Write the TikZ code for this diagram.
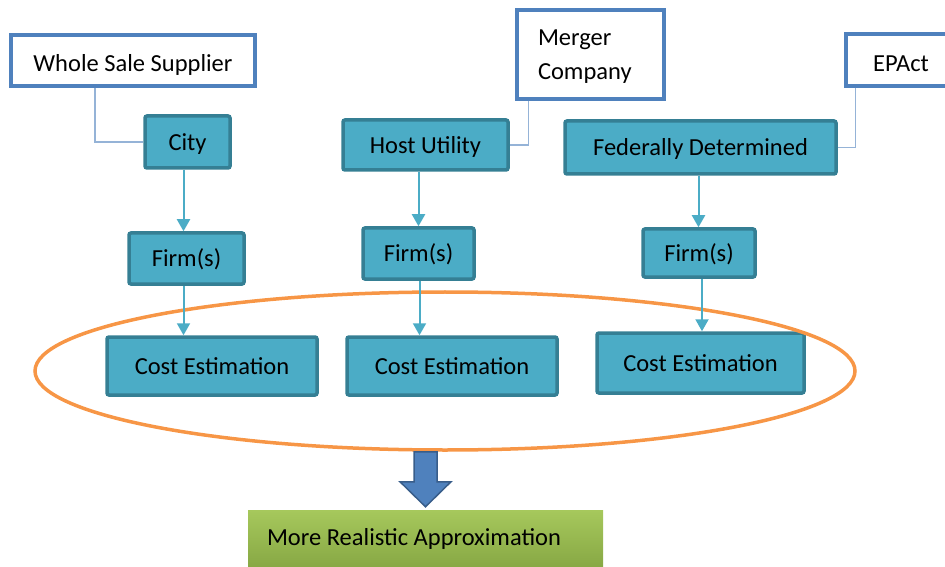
\documentclass[tikz,border=0pt]{standalone}
\usepackage{fontspec}
\setmainfont{Carlito}
\usetikzlibrary{positioning, arrows.meta, shapes.geometric}

\definecolor{topblue}{HTML}{4F81BD}
\definecolor{tealfill}{HTML}{4BACC6}
\definecolor{tealedge}{HTML}{357F94}
\definecolor{linkblue}{HTML}{95B3D7}
\definecolor{ring}{HTML}{F79646}
\definecolor{arrowedge}{HTML}{385D8A}
\definecolor{greenhi}{HTML}{A6C85C}
\definecolor{greenlo}{HTML}{7A9A3A}

\begin{document}
\begin{tikzpicture}[
  x=1bp, y=-1bp,
  every node/.style={font=\fontsize{24.5bp}{34bp}\selectfont},
  source/.style={draw=topblue, line width=3.5bp, fill=white, inner sep=0pt, text height=28bp, text depth=5bp},
  block/.style={draw=tealedge, line width=3.5bp, fill=tealfill, rounded corners=2bp, inner sep=0pt, text height=22bp, text depth=5bp},
  link/.style={draw=linkblue, line width=1.5bp},
  arrow/.style={-{Triangle[length=12bp,width=13bp]}, draw=tealfill, line width=2bp},
  group/.style={draw=ring, line width=3.5bp, ellipse, inner sep=0pt, minimum width=820bp, minimum height=158bp},
  bigarrow/.style={fill=topblue, draw=arrowedge, line width=1.5bp, line join=miter},
  result/.style={top color=greenhi, bottom color=greenlo, anchor=north, align=flush left, text width=317bp, inner xsep=19bp, inner ysep=17bp, text height=18bp, text depth=30bp}
]
\clip (0,0) rectangle (945,567);

\node[source, minimum width=244bp, minimum height=51bp] (supplier) at (133,60.5) {Whole Sale Supplier};
\node[source, minimum width=147bp, minimum height=89bp, text width=105bp, align=flush left, text height=, text depth=34bp] (merger) at (590.5,54.5) {Merger\\Company};
\node[source, minimum width=110bp, minimum height=52bp] (epact) at (901,60) {EPAct};

\node[block, minimum width=85bp, minimum height=52bp] (city) at (187.5,142) {City};
\node[block, minimum width=165bp, minimum height=50bp] (host) at (425.5,145) {Host Utility};
\node[block, minimum width=271bp, minimum height=53bp] (federal) at (700.5,147.5) {Federally Determined};

\node[block, minimum width=115bp, minimum height=51bp] (firmA) at (186.5,258.5) {Firm(s)};
\node[block, minimum width=111bp, minimum height=51bp] (firmB) at (418.5,253.5) {Firm(s)};
\node[block, minimum width=112bp, minimum height=48bp] (firmC) at (699,253) {Firm(s)};

\node[block, minimum width=210bp, minimum height=58bp] (costA) at (212,366) {Cost Estimation};
\node[block, minimum width=210bp, minimum height=58bp] (costB) at (452,366) {Cost Estimation};
\node[block, minimum width=207bp, minimum height=60bp] (costC) at (700.5,363) {Cost Estimation};

\node[group] (estimates) at (445,371) {};
\node[result] (approx) at (425.5,510) {More Realistic Approximation};
\coordinate (down) at (approx.north |- estimates.south);

\draw[link] ([xshift=-38bp]supplier.south) |- (city.west);
\draw[link] ([xshift=13bp]merger.south west) |- (host.east);
\draw[link] ([xshift=11bp]epact.south west) |- (federal.east);

\draw[arrow] ([xshift=-4bp]city.south) -- ([xshift=-4bp]city.south |- firmA.north);
\draw[arrow] ([xshift=-3bp]firmA.south) -- ([xshift=-3bp]firmA.south |- costA.north);
\draw[arrow] ([xshift=-7bp]host.south) -- ([xshift=-7bp]host.south |- firmB.north);
\draw[arrow] ([xshift=1bp]firmB.south) -- ([xshift=1bp]firmB.south |- costB.north);
\draw[arrow] ([xshift=-2bp]federal.south) -- ([xshift=-2bp]federal.south |- firmC.north);
\draw[arrow] ([xshift=3bp]firmC.south) -- ([xshift=3bp]firmC.south |- costC.north);

\draw[bigarrow] ([xshift=-11.5bp]down) -- ++(0,30) -- ++(-14,0) -- ++(25.5,25)
  -- ++(25.5,-25) -- ++(-14,0) -- ++(0,-30) -- cycle;

\end{tikzpicture}
\end{document}
